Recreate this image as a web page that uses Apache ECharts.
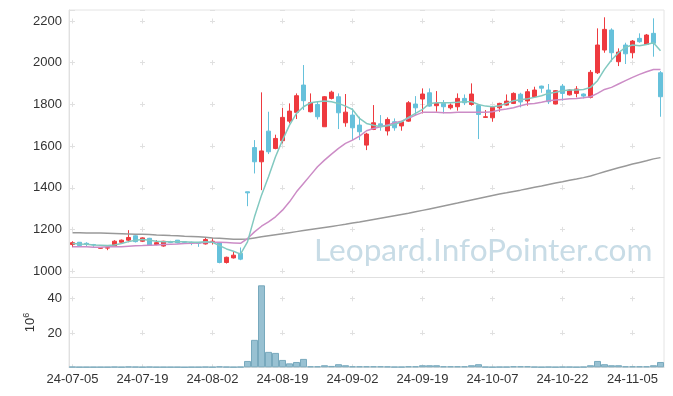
<!DOCTYPE html>
<html><head><meta charset="utf-8">
<script src="https://cdn.jsdelivr.net/npm/echarts@6/dist/echarts.min.js"></script>
<style>html,body{margin:0;padding:0;background:#fff}#c{width:673px;height:396px}</style>
</head><body><div id="c"></div>
<script>
const dates = ['24-07-05','24-07-08','24-07-09','24-07-10','24-07-11','24-07-12','24-07-15','24-07-16','24-07-17','24-07-18',
'24-07-19','24-07-22','24-07-23','24-07-24','24-07-25','24-07-26','24-07-29','24-07-30','24-07-31','24-08-01',
'24-08-02','24-08-05','24-08-06','24-08-07','24-08-08','24-08-09','24-08-12','24-08-13','24-08-14','24-08-16',
'24-08-19','24-08-20','24-08-21','24-08-22','24-08-23','24-08-26','24-08-27','24-08-28','24-08-29','24-08-30',
'24-09-02','24-09-03','24-09-04','24-09-05','24-09-06','24-09-09','24-09-10','24-09-11','24-09-12','24-09-13',
'24-09-19','24-09-20','24-09-23','24-09-24','24-09-25','24-09-26','24-09-27','24-09-30','24-10-02','24-10-04',
'24-10-07','24-10-08','24-10-10','24-10-11','24-10-14','24-10-15','24-10-16','24-10-17','24-10-18','24-10-21',
'24-10-22','24-10-23','24-10-24','24-10-25','24-10-28','24-10-29','24-10-30','24-10-31','24-11-01','24-11-04',
'24-11-05','24-11-06','24-11-07','24-11-08','24-11-11'];

const opens = [1128,1139,1134,1128,1110,1111,1121,1139,1149,1170,
1144,1158,1128,1121,1142,1149,1141,1139,1138,1131,
1142,1136,1042,1064,1086,1381,1593,1525,1672,1589,
1626,1720,1762,1893,1765,1800,1693,1829,1837,1712,
1749,1701,1605,1680,1707,1673,1717,1697,1720,1802,
1826,1856,1794,1805,1784,1789,1829,1800,1795,1738,
1736,1784,1797,1805,1849,1817,1837,1888,1869,1802,
1888,1846,1853,1850,1834,1952,2061,2157,2005,2085,
2048,2117,2088,2141,1952];
const closes = [1137,1123,1131,1126,1113,1113,1144,1149,1162,1142,
1160,1125,1137,1144,1138,1136,1139,1137,1134,1152,
1144,1042,1067,1077,1058,1376,1525,1577,1573,1637,
1738,1768,1842,1818,1808,1741,1837,1859,1760,1763,
1688,1669,1658,1712,1697,1728,1688,1717,1808,1784,
1850,1792,1805,1789,1797,1829,1808,1850,1752,1741,
1786,1805,1816,1853,1812,1861,1869,1878,1813,1866,
1853,1869,1874,1840,1954,2085,2160,2048,2051,2043,
2104,2101,2133,2093,1837];
const lows = [1115,1120,1120,1117,1108,1101,1118,1136,1139,1138,
1140,1123,1125,1118,1135,1134,1131,1125,1117,1128,
1128,1038,1037,1061,1053,1312,1469,1389,1562,1585,
1613,1709,1730,1773,1762,1728,1693,1824,1682,1693,
1629,1629,1581,1677,1674,1651,1674,1674,1717,1749,
1757,1789,1765,1757,1776,1770,1797,1794,1634,1736,
1717,1765,1794,1802,1786,1794,1834,1856,1802,1800,
1818,1843,1834,1829,1829,1946,2048,2005,1984,1994,
2021,2096,2085,2029,1741];
const highs = [1144,1140,1139,1131,1115,1123,1149,1152,1197,1173,
1163,1160,1149,1146,1146,1150,1144,1142,1140,1162,
1160,1139,1070,1093,1114,1381,1629,1858,1765,1655,
1784,1805,1853,1989,1853,1813,1840,1866,1853,1850,
1781,1741,1664,1797,1749,1738,1733,1720,1816,1840,
1877,1877,1864,1821,1805,1853,1848,1901,1797,1773,
1792,1808,1848,1858,1856,1874,1885,1890,1898,1869,
1898,1872,1888,1853,1965,2165,2218,2165,2069,2096,
2109,2141,2138,2213,1960];
const volumes = [0.3,0.2,0.2,0.2,0.2,0.2,0.3,0.2,0.4,0.3,
0.2,0.3,0.2,0.2,0.2,0.2,0.1,0.2,0.2,0.3,
0.2,0.5,0.3,0.2,0.3,3.7,16,47.8,9.0,8.4,
4.3,2.3,3.1,4.9,0.6,0.6,1.2,0.8,1.8,1.2,
0.6,0.6,0.6,0.6,0.6,0.5,0.3,0.3,0.6,0.6,
1.2,1.2,1.2,0.6,0.6,0.6,0.6,1.2,1.8,0.3,
0.2,0.3,0.3,0.6,0.6,0.6,0.3,0.2,0.3,0.2,
0.3,0.3,0.2,0.3,1.2,3.7,1.8,1.2,1.2,0.6,
0.6,0.6,0.6,1.2,3.1];
const ma5 = [1133,1131,1130,1126,1125,1123,1126,1133,1142,1149,
1152,1149,1144,1142,1142,1141,1141,1139,1139,1142,
1139,1123,1107,1096,1082,1141,1261,1365,1453,1549,
1629,1701,1757,1789,1808,1813,1816,1813,1805,1792,
1776,1733,1709,1700,1693,1698,1704,1717,1738,1757,
1776,1805,1808,1808,1808,1810,1813,1813,1800,1792,
1789,1794,1805,1818,1823,1827,1834,1842,1853,1859,
1866,1869,1869,1872,1882,1914,1968,2013,2048,2074,
2085,2082,2088,2096,2058];
const ma20 = [1117,1117,1117,1115,1115,1117,1117,1118,1120,1122,
1123,1125,1126,1128,1130,1131,1133,1134,1136,1138,
1139,1139,1138,1136,1134,1157,1189,1216,1237,1261,
1293,1333,1381,1421,1461,1501,1533,1562,1589,1613,
1629,1648,1674,1685,1693,1701,1712,1720,1733,1749,
1762,1762,1762,1760,1760,1762,1762,1763,1762,1762,
1765,1773,1778,1784,1794,1802,1805,1811,1818,1821,
1824,1827,1829,1832,1837,1853,1872,1882,1898,1914,
1930,1944,1957,1968,1968];
const ma120 = [1185,1185,1184,1184,1183,1182,1181,1180,1179,1178,
1177,1176,1174,1173,1171,1170,1168,1167,1165,1163,
1160,1158,1156,1154,1153,1155,1160,1165,1170,1175,
1180,1185,1190,1195,1200,1205,1210,1215,1220,1225,
1231,1236,1242,1248,1254,1260,1266,1272,1278,1285,
1292,1299,1306,1313,1320,1327,1335,1342,1349,1356,
1363,1370,1376,1383,1389,1396,1403,1409,1416,1423,
1429,1436,1442,1449,1457,1467,1477,1487,1496,1505,
1514,1522,1530,1539,1545];

const candles = dates.map((d, i) => [opens[i], closes[i], lows[i], highs[i]]);
const UP = '#ee3a3f', DOWN = '#66c1db';
const GRIDC = '#e0e0e0';
const labelFont = { fontFamily: 'Liberation Sans', fontSize: 13, color: '#333' };
const plain = v => String(Math.round(v));

const chart = echarts.init(document.getElementById('c'), null, { renderer: 'canvas' });
chart.setOption({
  animation: false,
  backgroundColor: '#fff',
  grid: [
    { left: 69, top: 10, width: 595, height: 267.5, show: true, borderColor: '#e4e4e4', borderWidth: 1 },
    { left: 69, top: 277.5, width: 595, height: 89.8, show: true, borderColor: '#e4e4e4', borderWidth: 1 }
  ],
  graphic: [{
    type: 'text', left: 314, top: 235, z: 1, silent: true,
    style: { text: 'Leopard.InfoPointer.com', font: '31.6px Lato', fill: '#c8dce6' }
  }],
  xAxis: [
    { type: 'category', gridIndex: 0, data: dates, boundaryGap: true,
      axisLine: { lineStyle: { color: GRIDC } }, axisTick: { show: false }, axisLabel: { show: false },
      splitLine: { show: true, interval: 9, alignWithLabel: true,
        lineStyle: { color: GRIDC, width: 1, type: [5, 36.67], dashOffset: 33.17 } } },
    { type: 'category', gridIndex: 1, data: dates, boundaryGap: true,
      axisLine: { lineStyle: { color: GRIDC } }, axisTick: { show: false },
      axisLabel: Object.assign({ interval: 9, margin: 6 }, labelFont),
      splitLine: { show: true, interval: 9, alignWithLabel: true,
        lineStyle: { color: GRIDC, width: 1, type: [5, 29], dashOffset: 15.2 } } }
  ],
  yAxis: [
    { type: 'value', gridIndex: 0, min: 970, max: 2253, splitNumber: 6, scale: true,
      axisLine: { show: true, lineStyle: { color: GRIDC } }, axisTick: { show: false },
      axisLabel: Object.assign({ margin: 7, showMinLabel: false, showMaxLabel: false, formatter: plain }, labelFont),
      splitLine: { show: true, lineStyle: { color: GRIDC, width: 1, type: [5, 65], dashOffset: 69 } } },
    { type: 'value', gridIndex: 1, min: 0, max: 52.35, interval: 20,
      axisLine: { show: true, lineStyle: { color: GRIDC } }, axisTick: { show: false },
      axisLabel: Object.assign({ margin: 7, showMinLabel: false, showMaxLabel: false, formatter: plain }, labelFont),
      splitLine: { show: true, lineStyle: { color: GRIDC, width: 1, type: [5, 65], dashOffset: 69 } },
      name: '10{sup|6}', nameLocation: 'middle', nameRotate: 90, nameGap: 25,
      nameTextStyle: { fontFamily: 'Liberation Sans', fontSize: 13, color: '#333',
        rich: { sup: { fontFamily: 'Liberation Sans', fontSize: 9, color: '#333', padding: [0, 0, 8, 0] } } } }
  ],
  series: [
    { type: 'candlestick', xAxisIndex: 0, yAxisIndex: 0, data: candles, barWidth: 5, z: 3,
      itemStyle: { color: UP, color0: DOWN, borderColor: UP, borderColor0: DOWN, borderWidth: 1 } },
    { type: 'line', xAxisIndex: 0, yAxisIndex: 0, data: ma120, showSymbol: false, z: 4,
      lineStyle: { color: '#999999', width: 1.5 } },
    { type: 'line', xAxisIndex: 0, yAxisIndex: 0, data: ma20, showSymbol: false, z: 4,
      lineStyle: { color: '#cc8cc6', width: 1.5 } },
    { type: 'line', xAxisIndex: 0, yAxisIndex: 0, data: ma5, showSymbol: false, z: 4,
      lineStyle: { color: '#82c9c0', width: 1.5 } },
    { type: 'bar', xAxisIndex: 1, yAxisIndex: 1, data: volumes, barWidth: '100%', z: 3,
      itemStyle: { color: '#98c1d2', borderColor: '#78a9bd', borderWidth: 1 } }
  ]
});
</script></body></html>
